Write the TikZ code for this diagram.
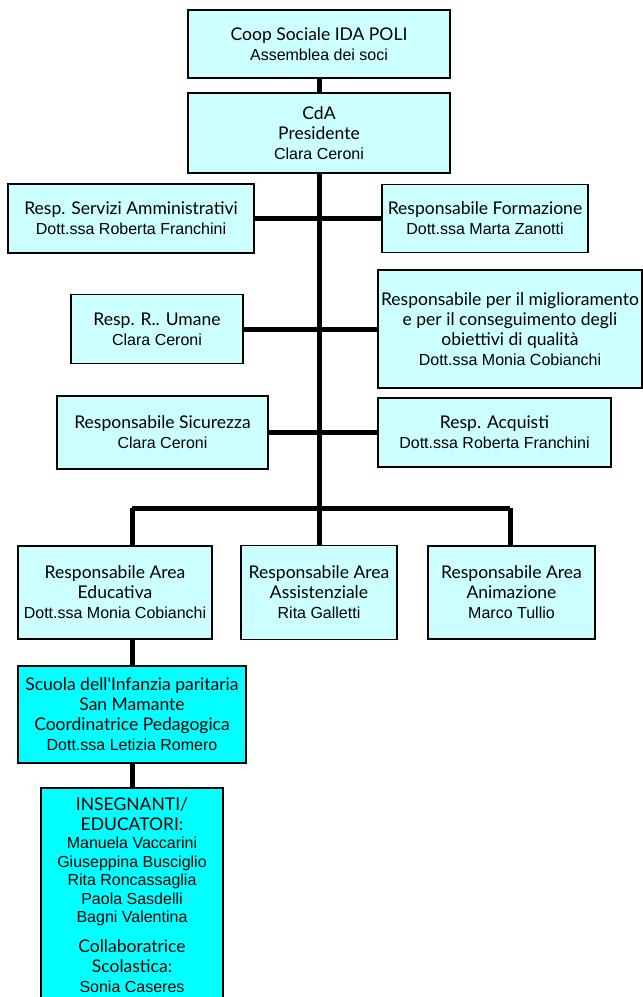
\documentclass[tikz,border=0pt]{standalone}
\usepackage{fontspec}
\setmainfont{Liberation Sans}
\newfontfamily\handfont{Lato}
\usetikzlibrary{positioning,calc}
\newcommand{\hd}[1]{{\handfont\fontsize{17.5}{19.5}\selectfont #1}}
\definecolor{palecyan}{HTML}{CCFFFF}
\definecolor{brightcyan}{HTML}{00FFFF}
\tikzset{
  orgbox/.style={draw=black, line width=1.5pt, fill=palecyan, align=center,
    inner sep=0pt, font=\fontsize{16}{20}\selectfont},
  schoolbox/.style={orgbox, fill=brightcyan},
  link/.style={line width=5pt, black}
}

\begin{document}
\begin{tikzpicture}[x=1pt,y=-1pt]
    \useasboundingbox (0,0) rectangle (643,997);
    \clip (0,0) rectangle (643,997);
    % top of the chart
    \node[orgbox, minimum width=262, minimum height=68] (coop) at (319,44)
        {\hd{Coop Sociale IDA POLI}\\Assemblea dei soci};
    \node[orgbox, minimum width=262, minimum height=80] (cda) at (319,133)
        {\hd{CdA}\\\hd{Presidente}\\Clara Ceroni};
    % staff boxes on the two sides
    \node[orgbox, minimum width=246, minimum height=69] (servizi) at (131,218.5)
        {\hd{Resp. Servizi Amministrativi}\\Dott.ssa Roberta Franchini};
    \node[orgbox, minimum width=206, minimum height=68] (formazione) at (485,218.5)
        {\hd{Responsabile Formazione}\\Dott.ssa Marta Zanotti};
    \node[orgbox, minimum width=172, minimum height=69] (umane) at (157,329)
        {\hd{Resp. R.. Umane}\\Clara Ceroni};
    \node[orgbox, minimum width=264, minimum height=118] (qualita) at (510,329)
        {\hd{Responsabile per il miglioramento}\\\hd{e per il conseguimento degli}\\\hd{obiettivi di qualità}\\Dott.ssa Monia Cobianchi};
    \node[orgbox, minimum width=211, minimum height=73] (sicurezza) at (162.5,432.5)
        {\hd{Responsabile Sicurezza}\\Clara Ceroni};
    \node[orgbox, minimum width=233, minimum height=69] (acquisti) at (494.5,432.5)
        {\hd{Resp. Acquisti}\\Dott.ssa Roberta Franchini};
    % areas
    \node[orgbox, minimum width=194, minimum height=93] (educativa) at (115,592.5)
        {\hd{Responsabile Area}\\\hd{Educativa}\\Dott.ssa Monia Cobianchi};
    \node[orgbox, minimum width=156, minimum height=94] (assistenza) at (319,592.5)
        {\hd{Responsabile Area}\\\hd{Assistenziale}\\Rita Galletti};
    \node[orgbox, minimum width=167, minimum height=93] (animazione) at (511.5,592.5)
        {\hd{Responsabile Area}\\\hd{Animazione}\\Marco Tullio};
    % school
    \node[schoolbox, minimum width=228, minimum height=97] (scuola) at (132,714.5)
        {\hd{Scuola dell'Infanzia paritaria}\\\hd{San Mamante}\\\hd{Coordinatrice Pedagogica}\\Dott.ssa Letizia Romero};
    \node[schoolbox, minimum width=182, minimum height=214] (insegnanti) at (132,895)
        {\hd{INSEGNANTI/}\\\hd{EDUCATORI:}\\[-1.5pt]Manuela Vaccarini\\[-1.5pt]Giuseppina Busciglio\\[-1.5pt]Rita Roncassaglia\\[-1.5pt]Paola Sasdelli\\[-1.5pt]Bagni Valentina\\[10pt]\hd{Collaboratrice}\\\hd{Scolastica:}\\Sonia Caseres};
    % connectors
    \coordinate (bus) at (319,508);
    \coordinate (busL) at (132,508);
    \coordinate (busR) at (510,508);
    \draw[link] (coop) -- (cda);
    \draw[link] (cda) -- (bus);
    \draw[link] (servizi) -- (formazione);
    \draw[link] (umane) -- (qualita);
    \draw[link] (sicurezza) -- (acquisti);
    \draw[link] (busL) -- (busR);
    \draw[link] (busL) -- (busL |- educativa.north);
    \draw[link] (bus) -- (assistenza);
    \draw[link] (busR) -- (busR |- animazione.north);
    \draw[link] (educativa.south -| scuola) -- (scuola);
    \draw[link] (scuola) -- (insegnanti);
\end{tikzpicture}
\end{document}
